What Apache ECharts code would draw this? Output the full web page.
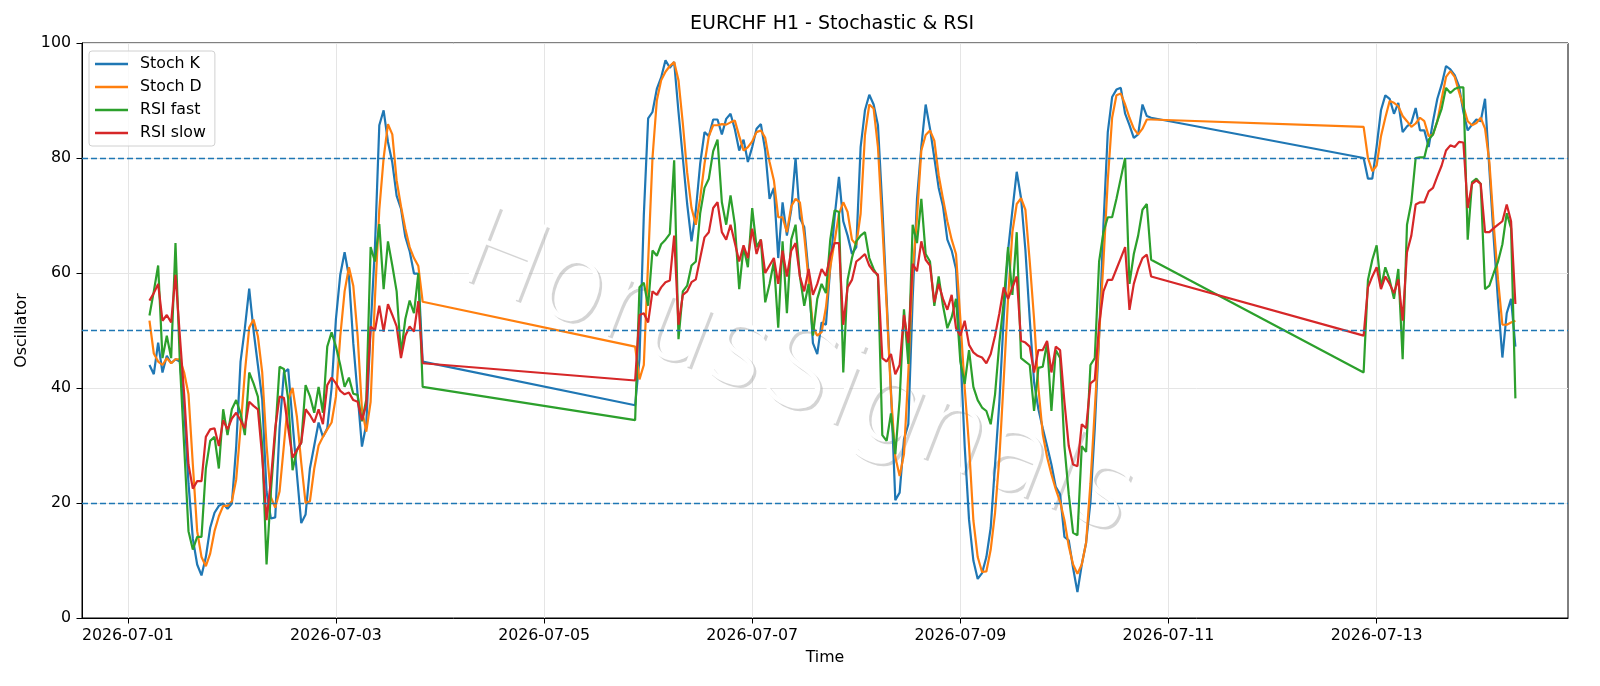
<!DOCTYPE html>
<html>
<head>
<meta charset="utf-8">
<title>EURCHF H1 - Stochastic & RSI</title>
<script src="https://cdn.jsdelivr.net/npm/echarts@6.0.0/dist/echarts.min.js"></script>
<style>html,body{margin:0;padding:0;background:#fff;}</style>
</head>
<body>
<div id="main" style="width:1600px;height:686px;"></div>
<script type="text/javascript">
// hourly bars in three blocks, weekends have no bars (the line just jumps the gap)
var segments = [['2026-07-01T05:00', 64], ['2026-07-05T21:00', 120], ['2026-07-12T21:00', 36]];

var stochK = [
    // 07-01 05:00 .. 07-03 20:00
    44, 42.4, 47.9, 42.7, 45.6, 44.3, 45, 44.6, 36.3, 23.4, 13.8, 9.3, 7.4, 10.6, 15.7, 18.3, 19.5, 19.9, 19, 19.9, 29.8, 44.6, 50.4,
    57.3, 50, 44, 38, 22, 17.3, 17.5, 33, 42.7, 43.3, 34, 25, 16.5, 18, 26, 30, 34, 31.5, 33, 40, 52, 59.7, 63.6,
    59.4, 47.8, 38.9, 29.8, 33.7, 50.4, 64.5, 85.7, 88.3, 82.8, 79.2, 73.4, 71.2, 66.3, 63.8, 59.9, 59.9, 44.6,
    // 07-05 21:00 .. 07-10 20:00
    37, 45, 70, 86.9, 88, 92, 94, 97, 95.7, 96.7, 88, 80, 72, 65.5, 70.9, 79, 84.5, 83.8, 86.7, 86.7,
    84.1, 86.8, 87.7, 85, 81.3, 83.2, 79.3, 81.9, 85.1, 85.9, 81.3, 72.9, 74.8, 62.6, 72.3, 66.5, 71, 80, 69.5, 68,
    60, 47.8, 45.9, 51.4, 51, 61, 69.7, 76.7, 69, 66.5, 63.3, 64.5, 81.9, 88.3, 91, 89.3, 85.7, 71.6, 55.5, 39.5,
    20.5, 21.8, 31.1, 33.7, 55.5, 72.9, 82, 89.3, 85.1, 80, 74.8, 71.6, 65.8, 63.9, 60.7, 46.6, 29.9, 17.1, 10, 6.8,
    7.8, 10.6, 15.7, 26.7, 37.6, 52.3, 63.9, 70.9, 77.6, 73, 64, 52, 41, 36.3, 33, 29.9, 26.7, 22.8, 21.5, 14.1,
    13.5, 8.7, 4.5, 9.3, 13.1, 20.2, 33, 49.1, 68.4, 84.5, 90.6, 91.9, 92.2, 87.7, 85.7, 83.5, 84.1, 89.3, 87.3, 87,
    // 07-12 21:00 .. 07-14 08:00
    80, 76.4, 76.4, 82, 88.3, 90.9, 90.3, 87.7, 89.6, 84.5, 85.5, 86.1, 88.7, 84.8, 84.8, 81.9, 86.4, 90.3, 92.8, 96,
    95.4, 94.4, 92.5, 88, 84.8, 85.8, 86.7, 86.4, 90.3, 78, 66, 55, 45.3, 53, 55.5, 47.2
];
var stochD = [
    51.7, 46, 44.6, 44, 45.2, 44.3, 45, 45, 42.7, 38.9, 26.7, 15.1, 10.6, 9, 11.2, 15.1, 17.7, 19.5, 19.5, 20.3, 24.1, 33, 42.7,
    50.5, 51.9, 49, 42.7, 30, 21, 19.2, 22, 30, 38, 40, 35, 27, 20, 20.3, 26, 30, 31.5, 32.8, 34, 38.5, 49, 56.8,
    61, 57.8, 49.1, 36.3, 32.4, 37.6, 55.6, 71, 80, 85.9, 84.1, 76.1, 71.6, 67.7, 64.5, 62.6, 61.2, 55,
    47.2, 41.5, 44, 62, 80, 90, 93.5, 95, 96, 96.7, 93.5, 86, 77.5, 71.3, 68.4, 73, 79, 83.8, 85.7, 85.7,
    85.9, 85.8, 86.2, 86.5, 83.8, 81.3, 81.9, 82.9, 84.5, 84.8, 83.5, 79.3, 76.1, 69.7, 69.7, 67.1, 71.6, 72.9, 72.3, 66.5,
    58.8, 50.7, 49.1, 49.7, 54, 61, 65.5, 70.3, 72.3, 70.6, 65.8, 64.9, 70.3, 84, 89.3, 88.6, 81.9, 68.4, 54.3, 38.9,
    28, 24.7, 28.5, 42.7, 60, 69.7, 81.3, 84, 84.8, 83, 77, 72.9, 69, 65.8, 63.3, 52, 40, 30, 17, 10.6,
    8, 8.1, 11.9, 18.3, 27.9, 41.4, 55.5, 67.1, 72, 73, 71, 62, 52, 40, 32, 28, 25, 22.4, 20.2, 17,
    12.5, 9.3, 7.7, 9.3, 13.1, 23.4, 36.3, 49.1, 62, 76.1, 87, 90.9, 91.2, 89.3, 87, 85.1, 84.1, 85.1, 86.7, 86.7,
    85.4, 80, 77.7, 78.7, 83.8, 87, 89.9, 89.6, 89, 87.3, 86.4, 85.4, 86, 87, 86.4, 83.8, 84.1, 86.4, 90.3, 94.1,
    95.1, 94.1, 91.5, 89, 86.4, 85.7, 86.1, 87, 85.1, 79.3, 68.4, 58.8, 51, 51, 51.4, 51.7
];
var rsiFast = [
    52.6, 56.8, 61.3, 45.2, 49.1, 45.2, 65.2, 44.6, 29.9, 15.1, 11.9, 14.1, 14.1, 26, 30.8, 31.5, 26, 36.3, 31.8, 36.3, 37.9, 35.6, 31.8,
    42.7, 40.8, 38.5, 30, 9.3, 22, 32, 43.7, 43.3, 38, 25.7, 29.2, 30.5, 40.5, 38.6, 35.7, 40.2, 35.7, 47.2, 49.7, 47.2, 44, 40.2,
    41.8, 39, 38.8, 34.2, 38, 64.5, 62, 68.5, 57.2, 65.5, 61.3, 56.8, 45.9, 52, 55.2, 53, 60, 40.2,
    34.4, 57.5, 58.3, 54.3, 63.9, 63, 65, 65.8, 66.8, 79.6, 48.5, 56.8, 57.8, 61.3, 62, 70.4, 74.8, 76.4, 81.2, 83.2,
    72.3, 68.4, 73.5, 68.4, 57.2, 64.5, 61, 71.3, 64.5, 65.8, 54.9, 58.1, 62, 50.5, 65.5, 53, 65.8, 68.4, 59.4, 54.3,
    58.1, 49.1, 55.5, 58.1, 56.5, 65.8, 70.9, 70.6, 42.7, 58.8, 62.6, 65.5, 66.5, 67.1, 62.6, 60.7, 59.4, 31.8, 30.8, 35.6,
    28.5, 38, 53.7, 44.2, 68.4, 65.2, 72.9, 63.3, 62, 54.3, 59.4, 54.3, 50.4, 52.3, 55.5, 44.6, 40.7, 46.6, 40.2, 37.9,
    36.6, 36, 33.7, 38.9, 47.9, 55, 64.5, 56.2, 67.1, 45.2, 44.6, 44, 36, 43.5, 43.7, 47.9, 36, 46.6, 45.2, 29.9,
    21.5, 14.8, 14.4, 29.9, 28.9, 44, 45.2, 62, 67.1, 69.7, 69.7, 72.9, 76.5, 80, 58.1, 63.3, 66.5, 71, 72, 62.3,
    42.7, 58.8, 62.3, 64.8, 57.5, 61, 58.8, 55.5, 60.7, 45, 68.4, 72.3, 80, 80.1, 80.1, 83.2, 84.1, 86.4, 88.6, 92.2,
    91.3, 92, 92.3, 92.3, 65.8, 75.8, 76.4, 75.5, 57.2, 57.8, 60, 62, 65, 70.4, 67.8, 38.2
];
var rsiSlow = [
    55.2, 56.5, 58.1, 51.7, 52.7, 51.4, 59.7, 49.1, 38.9, 26.7, 22.5, 23.8, 23.8, 31.5, 32.8, 33, 29.9, 34.4, 32.8, 34.7, 35.7, 34.4, 33,
    37.6, 36.9, 36.3, 28, 17, 24, 33, 38.5, 38.3, 33, 27.9, 29.2, 30.5, 36.3, 35.3, 34, 36.3, 33.7, 40.5, 41.8, 40.8, 39.5, 38.9,
    39.2, 37.9, 37.6, 34.4, 37.1, 50.7, 50, 54.3, 49.8, 54.6, 52.7, 50.7, 45.2, 49.1, 50.7, 49.8, 55.1, 44.3,
    41.3, 52.7, 53, 51.4, 56.8, 56.2, 57.5, 58.4, 58.7, 66.5, 51, 56.2, 56.8, 58.4, 58.9, 62.6, 66.2, 67.1, 71.3, 72.3,
    67.1, 65.8, 68.4, 65.2, 62, 64.8, 62.6, 67.7, 63.3, 65.8, 60, 61.3, 62.6, 58.1, 63.9, 59.4, 63.9, 65.2, 59.4, 56.8,
    60.7, 56.2, 58.1, 60.7, 59.5, 63, 65.2, 65.2, 51, 57.5, 58.8, 62, 62.6, 63.3, 61.3, 60.3, 59.7, 45.2, 44.6, 45.9,
    42.4, 44, 52.7, 47.8, 61.6, 60.3, 65.5, 62.3, 61.3, 54.9, 58.1, 55.5, 53.6, 56.2, 50.4, 49.1, 51.7, 47.5, 46.2, 45.6,
    45.3, 44.3, 45.9, 49.1, 53, 57.5, 55.5, 57.5, 59.4, 48.2, 47.9, 47.2, 42.7, 46.6, 46.6, 48.2, 42.7, 47.2, 46.6, 37.6,
    29.9, 26.7, 26.4, 33.7, 33, 40.8, 41.4, 51, 56.8, 58.8, 58.8, 60.7, 62.6, 64.5, 53.6, 58.1, 60.7, 62.6, 63.2, 59.4,
    49.1, 57.5, 59.4, 61, 57.2, 59.4, 58.1, 56.5, 58.9, 51.7, 63.6, 66.5, 71.9, 72.3, 72.3, 74.2, 74.8, 76.8, 78.7, 81.3,
    82.2, 81.9, 82.8, 82.7, 71.3, 75.5, 76.1, 75.5, 67.1, 67.1, 67.8, 68.4, 69, 71.9, 69, 54.6
];

var tickDates = ['2026-07-01', '2026-07-03', '2026-07-05', '2026-07-07', '2026-07-09', '2026-07-11', '2026-07-13'];
var levels = [20, 50, 80];

// x is counted in hours from 2026-07-01 00:00
var t0 = Date.UTC(2026, 6, 1);
function hoursOf(s) {
    return (Date.parse(s + 'Z') - t0) / 3600000;
}
var hours = [];
segments.forEach(function (seg) {
    var h = hoursOf(seg[0]);
    for (var i = 0; i < seg[1]; i++) hours.push(h + i);
});
var tickHours = tickDates.map(function (d) { return hoursOf(d + 'T00:00'); });

function pairs(arr) {
    return arr.map(function (v, i) { return [hours[i], v]; });
}

var font = 'DejaVu Sans';
var colors = ['#1f77b4', '#ff7f0e', '#2ca02c', '#d62728'];

var myChart = echarts.init(document.getElementById('main'), null, { renderer: 'canvas' });

function lineSeries(name, arr) {
    return {
        name: name,
        type: 'line',
        data: pairs(arr),
        showSymbol: false,
        symbol: 'none',
        lineStyle: { width: 2.2 },
        z: 3
    };
}

var series = [
    lineSeries('Stoch K', stochK),
    lineSeries('Stoch D', stochD),
    lineSeries('RSI fast', rsiFast),
    lineSeries('RSI slow', rsiSlow)
];
series[0].markLine = {
    silent: true,
    symbol: ['none', 'none'],
    label: { show: false },
    lineStyle: { color: '#1f77b4', type: [6, 3], width: 1.3 },
    data: levels.map(function (v) { return { yAxis: v }; })
};

// watermark: a gray copy underneath, a white copy on top shifted up-left
function watermark(dx, dy, fill) {
    return {
        type: 'text',
        x: 797 + dx,
        y: 378 + dy,
        rotation: -0.37,
        z: 1,
        silent: true,
        style: {
            text: 'HorusSignals',
            x: 0,
            y: 0,
            align: 'center',
            verticalAlign: 'middle',
            fontFamily: font,
            fontWeight: 200,
            fontSize: 110,
            fill: fill
        }
    };
}

var option = {
    animation: false,
    color: colors,
    textStyle: { fontFamily: font },
    title: {
        text: 'EURCHF H1 - Stochastic & RSI',
        left: 690,
        top: 15,
        padding: 0,
        textStyle: { fontFamily: font, fontSize: 19, fontWeight: 'normal', color: '#000' }
    },
    legend: {
        orient: 'vertical',
        left: 89,
        top: 51,
        padding: [5, 9, 5, 6],
        itemGap: 7,
        itemWidth: 33,
        itemHeight: 16,
        icon: 'path://M0,0H33V2.4H0Z',
        backgroundColor: 'rgba(255,255,255,0.8)',
        borderColor: '#d0d0d0',
        borderWidth: 1,
        borderRadius: 3,
        textStyle: { fontFamily: font, fontSize: 15.8, color: '#000', padding: [0, 0, 0, 7] },
        data: ['Stoch K', 'Stoch D', 'RSI fast', 'RSI slow']
    },
    grid: {
        left: 82,
        right: 32,
        top: 43,
        bottom: 68,
        show: true,
        borderColor: '#000',
        borderWidth: 1
    },
    xAxis: {
        type: 'value',
        min: -10.56,
        max: 332.13,
        name: 'Time',
        nameLocation: 'middle',
        nameGap: 32,
        nameTextStyle: { fontFamily: font, fontSize: 15.8, color: '#000' },
        axisLine: { onZero: false, lineStyle: { color: '#000', width: 1 } },
        axisTick: { customValues: tickHours, length: 5.5, lineStyle: { color: '#000' } },
        axisLabel: {
            customValues: tickHours,
            margin: 10,
            fontFamily: font,
            fontSize: 15.8,
            color: '#000',
            formatter: function (v) {
                return new Date(t0 + v * 3600000).toISOString().slice(0, 10);
            }
        },
        splitLine: { show: true, lineStyle: { color: '#e5e5e5', width: 1 } }
    },
    yAxis: {
        type: 'value',
        min: 0,
        max: 100,
        interval: 20,
        name: 'Oscillator',
        nameLocation: 'middle',
        nameGap: 50,
        nameTextStyle: { fontFamily: font, fontSize: 15.8, color: '#000' },
        axisLine: { show: true, onZero: false, lineStyle: { color: '#000', width: 1 } },
        axisTick: { show: true, length: 5.5, lineStyle: { color: '#000' } },
        axisLabel: { margin: 11, fontFamily: font, fontSize: 15.8, color: '#000' },
        splitLine: { show: true, lineStyle: { color: '#e5e5e5', width: 1 } }
    },
    graphic: [
        watermark(2.5, 2.5, 'rgba(160,160,160,0.45)'),
        watermark(0, 0, '#ffffff')
    ],
    series: series
};

myChart.setOption(option);
</script>
</body>
</html>
